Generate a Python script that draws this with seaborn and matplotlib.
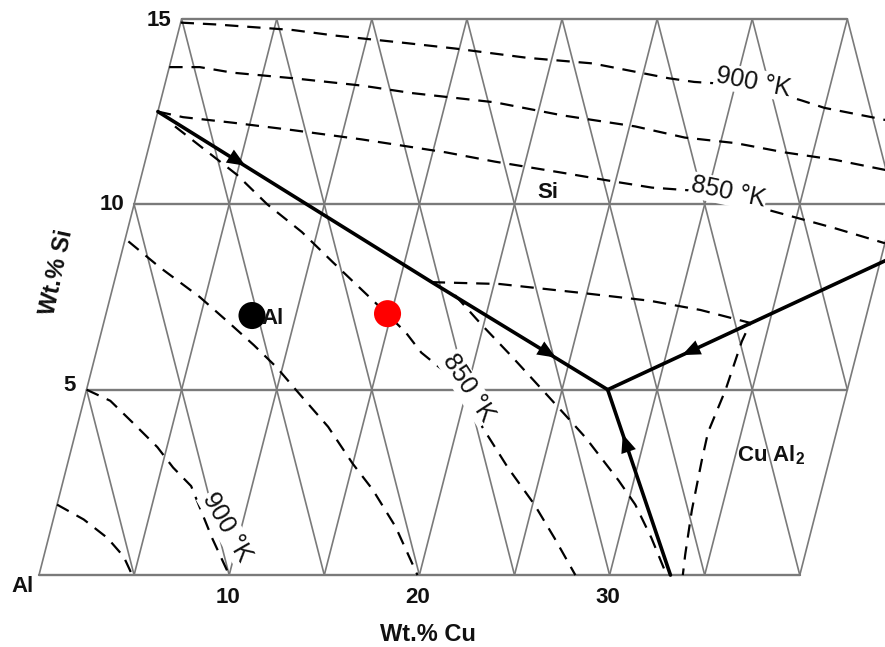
import numpy as np
import pandas as pd
import matplotlib
matplotlib.use("Agg")
import matplotlib.pyplot as plt
import seaborn as sns

sns.set_style("white")
plt.rcParams["font.family"] = ["Liberation Sans", "DejaVu Sans"]

# compositions, in (wt.% Cu, wt.% Si)
# solid monovariant lines
al_si_valley_cu = [0.0, 16.7, 27.4]
al_si_valley_si = [12.5, 7.9, 5.0]
al_cu_valley_cu = [27.4, 33.2]
al_cu_valley_si = [5.0, 0.0]
cual2_si_valley_cu = [27.4, 40.7]
cual2_si_valley_si = [5.0, 8.6]

# dashed isotherms
iso_z1_cu = [0.0, 1.6, 3.1, 4.2, 4.9]
iso_z1_si = [1.9, 1.5, 1.0, 0.5, 0.0]
iso_900_al_cu = [0.0, 1.4, 2.9, 4.5, 5.6, 6.8, 8.6, 10.0]
iso_900_al_si = [5.0, 4.7, 4.1, 3.45, 2.9, 2.4, 1.0, 0.0]
iso_p_cu = [0.2, 2.2, 4.7, 6.6, 8.2, 9.7, 11.0, 13.2, 15.0, 16.4, 18.1, 19.9]
iso_p_si = [9.0, 8.3, 7.5, 6.8, 6.2, 5.6, 5.0, 4.0, 3.0, 2.3, 1.3, 0.0]
iso_850_al_cu = [1.1, 2.9, 5.0, 7.0, 9.2, 11.2, 14.0, 16.0, 17.1, 20.0, 21.3, 23.2, 25.1, 26.6, 28.2]
iso_850_al_si = [12.1, 11.5, 10.8, 10.0, 9.25, 8.45, 7.35, 6.55, 6.0, 5.0, 4.0, 2.9, 1.9, 1.0, 0.0]
iso_b_cu = [18.1, 19.9, 21.9, 24.3, 26.0, 26.9, 29.2, 30.4, 31.7, 33.0]
iso_b_si = [7.55, 6.75, 5.9, 4.85, 4.1, 3.7, 2.55, 1.9, 1.0, 0.0]
iso_h_cu = [16.7, 20.3, 24.9, 28.4, 31.2, 34.0, 33.8, 33.6, 33.25, 33.3, 33.45, 33.7, 33.85]
iso_h_si = [7.9, 7.85, 7.6, 7.4, 7.15, 6.8, 6.3, 5.0, 3.85, 3.1, 1.75, 0.55, 0.0]
iso_900_si_cu = [0.0, 1.9, 6.0, 8.3, 12.1, 14.8, 18.7, 22.2, 26.4, 27.8, 30.9, 33.7, 35.0, 37.6, 38.6]
iso_900_si_si = [14.9, 14.85, 14.7, 14.55, 14.35, 14.2, 13.95, 13.8, 13.4, 13.3, 13.2, 12.8, 12.6, 12.35, 12.25]
iso_t2_cu = [0.0, 1.6, 3.4, 6.65, 10.4, 13.1, 17.6, 21.3, 25.3, 28.05, 30.8, 33.5, 36.25, 39.3]
iso_t2_si = [13.7, 13.7, 13.55, 13.4, 13.2, 13.0, 12.75, 12.4, 12.1, 11.8, 11.65, 11.4, 11.2, 10.9]
iso_850_si_cu = [0.0, 1.4, 4.1, 7.35, 11.1, 15.7, 18.4, 22.1, 25.1, 27.0, 31.1, 33.4, 35.3, 37.2, 40.0]
iso_850_si_si = [12.5, 12.35, 12.2, 12.0, 11.75, 11.4, 11.15, 10.85, 10.6, 10.45, 10.3, 9.85, 9.6, 9.35, 8.95]

# marked alloys
black_pt = (7.7, 7.0)
red_pt = (14.8, 7.05)

# grid
grid_cu = list(range(0, 45, 5))
grid_si = [0, 5, 10, 15]
grid_si_cu_max = [40, 40, 40, 35]
bottom_ticks = [10, 20, 30]
left_ticks = [5, 10, 15]


def tern(cu, si):
    cu = np.asarray(cu, float)
    si = np.asarray(si, float)
    return cu + si / 2.0, si


fig = plt.figure(figsize=(8.85, 6.47), dpi=100)
ax = fig.add_axes([0, 0, 1, 1])
ax.set_xlim(-2.05, 44.48)
ax.set_ylim(-1.94, 15.51)
ax.axis("off")

gcol = "#7a7a7a"
# horizontal lines (constant Si)
for si, cmax in zip(grid_si, grid_si_cu_max):
    x, y = tern([0, cmax], [si, si])
    ax.plot(x, y, color=gcol, lw=1.7, zorder=1)
# constant Cu lines
for cu in grid_cu:
    x, y = tern([cu, cu], [0, 15])
    ax.plot(x, y, color=gcol, lw=1.2, zorder=1)
# constant Al lines (Cu + Si = c)
for c in range(5, 55, 5):
    s0, s1 = max(0, c - 40), min(15, c)
    if s1 <= s0:
        continue
    x, y = tern([c - s0, c - s1], [s0, s1])
    ax.plot(x, y, color=gcol, lw=1.2, zorder=1)

# isotherms
iso = [
    ("z1", iso_z1_cu, iso_z1_si),
    ("900al", iso_900_al_cu, iso_900_al_si),
    ("p", iso_p_cu, iso_p_si),
    ("850al", iso_850_al_cu, iso_850_al_si),
    ("b", iso_b_cu, iso_b_si),
    ("h", iso_h_cu, iso_h_si),
    ("900si", iso_900_si_cu, iso_900_si_si),
    ("t2", iso_t2_cu, iso_t2_si),
    ("850si", iso_850_si_cu, iso_850_si_si),
]
rows = []
for name, cu, si in iso:
    x, y = tern(cu, si)
    for i, (a, b) in enumerate(zip(x, y)):
        rows.append({"curve": name, "x": a, "y": b, "i": i})
iso_df = pd.DataFrame(rows)
sns.lineplot(data=iso_df, x="x", y="y", units="curve", estimator=None,
             sort=False, color="black", lw=1.6, linestyle=(0, (6, 4)),
             ax=ax, zorder=2)

# monovariant lines
valleys = [
    ("alsi", al_si_valley_cu, al_si_valley_si),
    ("alcu", al_cu_valley_cu, al_cu_valley_si),
    ("cual2", cual2_si_valley_cu, cual2_si_valley_si),
]
rows = []
for name, cu, si in valleys:
    x, y = tern(cu, si)
    for a, b in zip(x, y):
        rows.append({"line": name, "x": a, "y": b})
val_df = pd.DataFrame(rows)
sns.lineplot(data=val_df, x="x", y="y", units="line", estimator=None,
             sort=False, color="black", lw=2.6, ax=ax, zorder=3)


def arrow_on(cu, si, t, reverse=False):
    x, y = tern(cu, si)
    p0 = np.array([x[0], y[0]])
    p1 = np.array([x[-1], y[-1]])
    tip = p0 + (p1 - p0) * t
    d = (p1 - p0) * 0.02
    tail = tip + d if reverse else tip - d
    ax.annotate("", xy=tip, xytext=tail,
                arrowprops=dict(arrowstyle="-|>,head_length=0.6,head_width=0.25",
                                color="black", mutation_scale=22, lw=0),
                zorder=4)


arrow_on(al_si_valley_cu, al_si_valley_si, 0.20)
arrow_on(al_si_valley_cu, al_si_valley_si, 0.89)
arrow_on(al_cu_valley_cu, al_cu_valley_si, 0.24, reverse=True)
arrow_on(cual2_si_valley_cu, cual2_si_valley_si, 0.25, reverse=True)

# marked alloys
px, py = tern([black_pt[0], red_pt[0]], [black_pt[1], red_pt[1]])
sns.scatterplot(x=px, y=py, hue=["k", "r"], palette={"k": "black", "r": "#ff0000"},
                s=380, edgecolor="none", legend=False, ax=ax, zorder=5)

# labels
tk = dict(fontsize=16, fontweight="bold", color="#111111")
ax.text(6.94, 14.97, "15", ha="right", va="center", **tk)
ax.text(4.47, 10.0, "10", ha="right", va="center", **tk)
ax.text(1.95, 5.1, "5", ha="right", va="center", **tk)
ax.text(-0.84, -0.32, "Al", ha="center", va="center", **tk)
for t in bottom_ticks:
    ax.text(t - 0.07, -0.6, str(t), ha="center", va="center", **tk)
ax.text(20.45, -1.59, "Wt.% Cu", ha="center", va="center",
        fontsize=17, fontweight="bold", color="#111111")
ax.text(0.95, 8.17, "Wt.% Si", ha="center", va="center", rotation=78,
        fontsize=17, fontweight="bold", color="#111111")
ax.text(26.76, 10.33, "Si", ha="center", va="center", **tk)
ax.text(11.72, 6.93, "Al", ha="left", va="center", zorder=6, **tk)
ax.text(36.7, 3.24, r"Cu Al$\mathregular{_2}$", ha="left", va="center", **tk)

bb = dict(boxstyle="square,pad=0.05", fc="white", ec="none")
lk = dict(fontsize=18, fontweight="medium", color="#111111", ha="center",
          va="center", bbox=bb, zorder=4)
ax.text(37.54, 13.30, "900 °K", rotation=-11, **lk)
ax.text(36.22, 10.33, "850 °K", rotation=-12, **lk)
ax.text(22.56, 5.04, "850 °K", rotation=-57, **lk)
ax.text(9.88, 1.29, "900 °K", rotation=-60, **lk)

fig.savefig("out.png", dpi=100)
